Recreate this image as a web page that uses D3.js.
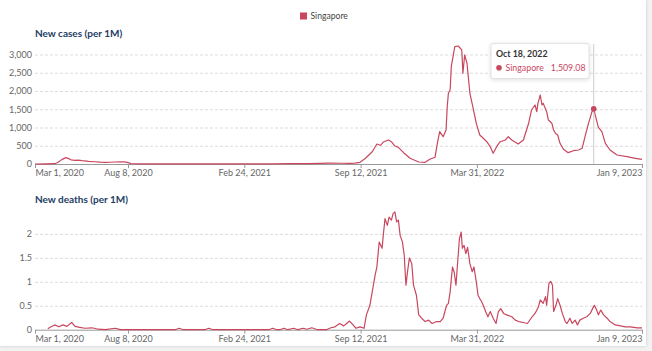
<!DOCTYPE html>
<html>
<head>
<meta charset="utf-8">
<script src="https://cdn.jsdelivr.net/npm/d3@7"></script>
<style>
  body { margin: 0; background: #f2f2f2; font-family: Lato, sans-serif; }
  #card { position: absolute; left: 0; top: 0; width: 646px; height: 346px; background: #fff; box-shadow: 0 0 3px rgba(0,0,0,0.18); }
  svg { position: absolute; left: 0; top: 0; }
  .grid line { stroke: #ddd; stroke-dasharray: 3,2; }
  .axis text { fill: #666; font-family: Lato, sans-serif; font-size: 9px; }
  .axis path, .axis line { stroke: #999; }
</style>
</head>
<body>
<div id="card"></div>
<svg id="chart" width="652" height="351"></svg>
<script>
const entity = 'Singapore'
const lineColor = '#c8475f'
const tickDates = ['2020-03-01', '2020-08-08', '2021-02-24', '2021-09-12', '2022-03-31', '2023-01-09']
const caseTicks = [0, 500, 1000, 1500, 2000, 2500, 3000]
const deathTicks = [0, 0.5, 1, 1.5, 2]
const hoverDate = '2022-10-18'
const hoverValue = 1509.08

// [date, new cases per 1M]
const casesSeries = [
  ['2020-03-01', 0], ['2020-03-20', 2], ['2020-04-04', 8], ['2020-04-09', 40], ['2020-04-16', 120],
  ['2020-04-23', 175], ['2020-04-27', 155], ['2020-05-02', 115], ['2020-05-09', 100], ['2020-05-14', 108],
  ['2020-05-21', 92], ['2020-06-01', 72], ['2020-06-12', 62], ['2020-06-21', 50], ['2020-06-30', 45],
  ['2020-07-08', 48], ['2020-07-17', 55], ['2020-07-26', 62], ['2020-08-02', 58], ['2020-08-08', 38],
  ['2020-08-13', 12], ['2020-08-28', 5], ['2020-10-01', 2], ['2021-01-01', 3], ['2021-04-15', 5],
  ['2021-05-15', 10], ['2021-06-15', 8], ['2021-07-20', 25], ['2021-08-10', 20], ['2021-08-25', 15],
  ['2021-09-02', 25], ['2021-09-11', 45], ['2021-09-20', 150], ['2021-10-02', 337], ['2021-10-10', 548],
  ['2021-10-16', 512], ['2021-10-22', 611], ['2021-10-30', 658], ['2021-11-04', 611], ['2021-11-10', 493],
  ['2021-11-16', 457], ['2021-11-25', 310], ['2021-12-06', 156], ['2021-12-21', 55], ['2022-01-01', 47],
  ['2022-01-09', 129], ['2022-01-18', 184], ['2022-01-22', 567], ['2022-01-26', 886], ['2022-02-01', 748],
  ['2022-02-06', 932], ['2022-02-08', 1570], ['2022-02-10', 1937], ['2022-02-13', 2028], ['2022-02-15', 2666],
  ['2022-02-21', 3214], ['2022-02-27', 3233], ['2022-03-05', 3124], ['2022-03-07', 2485], ['2022-03-10', 2987],
  ['2022-03-14', 2759], ['2022-03-19', 1937], ['2022-03-24', 1570], ['2022-03-30', 1115], ['2022-04-05', 795],
  ['2022-04-11', 704], ['2022-04-17', 611], ['2022-04-23', 474], ['2022-04-28', 293], ['2022-05-04', 474],
  ['2022-05-10', 611], ['2022-05-19', 658], ['2022-05-24', 748], ['2022-05-30', 658], ['2022-06-10', 548],
  ['2022-06-19', 658], ['2022-06-28', 1115], ['2022-07-03', 1480], ['2022-07-09', 1617], ['2022-07-12', 1433],
  ['2022-07-14', 1663], ['2022-07-18', 1890], ['2022-07-21', 1617], ['2022-07-23', 1663], ['2022-07-29', 1433],
  ['2022-08-01', 1205], ['2022-08-07', 1115], ['2022-08-10', 932], ['2022-08-13', 841], ['2022-08-17', 795],
  ['2022-08-21', 567], ['2022-08-27', 403], ['2022-09-04', 310], ['2022-09-13', 364], ['2022-09-22', 384],
  ['2022-09-28', 430], ['2022-10-03', 748], ['2022-10-09', 1115], ['2022-10-15', 1433], ['2022-10-18', 1509.08],
  ['2022-10-22', 1252], ['2022-10-26', 1005], ['2022-11-01', 886], ['2022-11-07', 567], ['2022-11-15', 384],
  ['2022-11-27', 247], ['2022-12-14', 200], ['2022-12-29', 156], ['2023-01-09', 129]
]

// [date, new deaths per 1M]
const deathsSeries = [
  ['2020-03-23', 0.02], ['2020-03-27', 0.05], ['2020-04-04', 0.1], ['2020-04-11', 0.06], ['2020-04-18', 0.1],
  ['2020-04-25', 0.07], ['2020-05-03', 0.15], ['2020-05-09', 0.07], ['2020-05-17', 0.05], ['2020-05-26', 0.03],
  ['2020-06-07', 0.04], ['2020-06-18', 0.01], ['2020-06-30', 0], ['2020-07-17', 0.03], ['2020-07-26', 0],
  ['2020-10-28', 0], ['2020-11-04', 0.03], ['2020-11-11', 0], ['2020-12-18', 0], ['2020-12-25', 0.03],
  ['2021-01-01', 0], ['2021-04-07', 0], ['2021-04-14', 0.03], ['2021-04-21', 0], ['2021-04-26', 0],
  ['2021-05-03', 0.03], ['2021-05-10', 0], ['2021-05-20', 0.03], ['2021-05-27', 0], ['2021-06-05', 0.03],
  ['2021-06-12', 0.01], ['2021-06-20', 0.04], ['2021-06-30', 0], ['2021-07-15', 0], ['2021-07-23', 0.04],
  ['2021-07-30', 0.06], ['2021-08-07', 0.13], ['2021-08-14', 0.08], ['2021-08-19', 0.13], ['2021-08-24', 0.18],
  ['2021-08-30', 0.1], ['2021-09-04', 0.03], ['2021-09-11', 0.06], ['2021-09-18', 0.03], ['2021-09-22', 0.31],
  ['2021-09-28', 0.51], ['2021-10-04', 0.93], ['2021-10-07', 1.14], ['2021-10-10', 1.31], ['2021-10-14', 1.83],
  ['2021-10-19', 1.7], ['2021-10-21', 1.97], ['2021-10-24', 2.32], ['2021-10-28', 2.18], ['2021-10-31', 2.35],
  ['2021-11-04', 2.29], ['2021-11-07', 2.43], ['2021-11-10', 2.46], ['2021-11-13', 2.25], ['2021-11-16', 2.29],
  ['2021-11-19', 1.97], ['2021-11-23', 1.83], ['2021-11-26', 1.56], ['2021-11-29', 0.93], ['2021-12-02', 1.24],
  ['2021-12-05', 1.5], ['2021-12-09', 1.38], ['2021-12-12', 0.93], ['2021-12-17', 0.72], ['2021-12-21', 0.31],
  ['2021-12-26', 0.24], ['2022-01-01', 0.17], ['2022-01-07', 0.2], ['2022-01-13', 0.13], ['2022-01-21', 0.17],
  ['2022-01-27', 0.17], ['2022-02-01', 0.24], ['2022-02-04', 0.38], ['2022-02-07', 0.51], ['2022-02-10', 0.55],
  ['2022-02-13', 0.79], ['2022-02-17', 1.31], ['2022-02-20', 1.2], ['2022-02-23', 0.93], ['2022-02-26', 1.42],
  ['2022-03-01', 1.9], ['2022-03-04', 2.04], ['2022-03-06', 1.7], ['2022-03-09', 1.76], ['2022-03-12', 1.59],
  ['2022-03-15', 1.72], ['2022-03-19', 1.38], ['2022-03-23', 1.21], ['2022-03-26', 1.31], ['2022-03-30', 1.0],
  ['2022-04-02', 0.72], ['2022-04-05', 0.65], ['2022-04-08', 0.59], ['2022-04-11', 0.51], ['2022-04-15', 0.38],
  ['2022-04-19', 0.27], ['2022-04-23', 0.38], ['2022-04-28', 0.24], ['2022-05-03', 0.13], ['2022-05-07', 0.38],
  ['2022-05-11', 0.44], ['2022-05-16', 0.34], ['2022-05-21', 0.31], ['2022-05-30', 0.27], ['2022-06-05', 0.2],
  ['2022-06-11', 0.17], ['2022-06-19', 0.15], ['2022-06-26', 0.13], ['2022-07-04', 0.27], ['2022-07-09', 0.34],
  ['2022-07-15', 0.48], ['2022-07-18', 0.62], ['2022-07-23', 0.55], ['2022-07-27', 0.69], ['2022-07-29', 0.51],
  ['2022-08-02', 0.97], ['2022-08-05', 1.01], ['2022-08-08', 0.93], ['2022-08-10', 0.38], ['2022-08-14', 0.51],
  ['2022-08-17', 0.65], ['2022-08-21', 0.51], ['2022-08-25', 0.34], ['2022-08-30', 0.17], ['2022-09-02', 0.13],
  ['2022-09-07', 0.24], ['2022-09-11', 0.13], ['2022-09-16', 0.2], ['2022-09-20', 0.1], ['2022-09-24', 0.2],
  ['2022-09-30', 0.24], ['2022-10-06', 0.27], ['2022-10-12', 0.34], ['2022-10-16', 0.44], ['2022-10-19', 0.51],
  ['2022-10-23', 0.41], ['2022-10-26', 0.31], ['2022-10-30', 0.41], ['2022-11-04', 0.31], ['2022-11-10', 0.24],
  ['2022-11-15', 0.17], ['2022-11-24', 0.1], ['2022-12-03', 0.08], ['2022-12-11', 0.06], ['2022-12-20', 0.06],
  ['2023-01-01', 0.04], ['2023-01-09', 0.04]
]

const parse = d3.utcParse('%Y-%m-%d')
const svg = d3.select('#chart')

const xScale = d3.scaleUtc()
  .domain([parse(tickDates[0]), parse(tickDates[tickDates.length - 1])])
  .range([35, 642])

function panel (series, ticks, yScale, title, titleY, fmt) {
  const g = svg.append('g')
  const width = xScale.range()[1] - xScale.range()[0]

  g.append('text')
    .attr('x', 35).attr('y', titleY)
    .attr('fill', '#1d3d63')
    .style('font-size', '10px').style('font-weight', 700)
    .text(title)

  // dashed grid, zero line is the x axis
  g.append('g').attr('class', 'grid')
    .attr('transform', `translate(${xScale.range()[0]},0)`)
    .call(d3.axisLeft(yScale).tickValues(ticks.slice(1)).tickSize(-width).tickFormat(''))
    .call(a => a.select('.domain').remove())

  g.append('g').attr('class', 'axis')
    .attr('transform', `translate(${xScale.range()[0]},0)`)
    .call(d3.axisLeft(yScale).tickValues(ticks).tickSize(0).tickPadding(3).tickFormat(fmt))
    .call(a => a.select('.domain').remove())

  const xAxis = g.append('g').attr('class', 'axis')
    .attr('transform', `translate(0,${yScale(0)})`)
    .call(d3.axisBottom(xScale).tickValues(tickDates.map(parse)).tickSize(4).tickSizeOuter(0).tickPadding(2)
      .tickFormat(d3.utcFormat('%b %-d, %Y')))
  xAxis.selectAll('.tick text')
    .attr('text-anchor', (d, i, n) => i === 0 ? 'start' : i === n.length - 1 ? 'end' : 'middle')

  const line = d3.line().x(d => xScale(parse(d[0]))).y(d => yScale(d[1]))
  g.append('path').datum(series)
    .attr('d', line)
    .attr('fill', 'none')
    .attr('stroke', lineColor)
    .attr('stroke-width', 1.2)
    .attr('stroke-linejoin', 'round')
  return g
}

const yCases = d3.scaleLinear().domain([0, 3000]).range([164, 54.5])
const yDeaths = d3.scaleLinear().domain([0, 2.5]).range([329.7, 210])

const casesPanel = panel(casesSeries, caseTicks, yCases, 'New cases (per 1M)', 36.5, d3.format(','))
panel(deathsSeries, deathTicks, yDeaths, 'New deaths (per 1M)', 202.5, d => String(d))

// legend
const legend = svg.append('g')
legend.append('rect').attr('x', 300).attr('y', 12.5).attr('width', 7).attr('height', 7).attr('fill', lineColor)
legend.append('text').attr('x', 310.5).attr('y', 19)
  .attr('fill', '#444').style('font-size', '8.6px').text(entity)

// hover marker on the cases chart
const hx = xScale(parse(hoverDate))
casesPanel.append('line')
  .attr('x1', hx).attr('x2', hx).attr('y1', 44).attr('y2', yCases(0))
  .attr('stroke', '#ccc')
casesPanel.append('circle')
  .attr('cx', hx).attr('cy', yCases(hoverValue)).attr('r', 2.8).attr('fill', lineColor)

const tip = casesPanel.append('g').attr('transform', 'translate(491,43.5)')
tip.append('rect').attr('width', 98).attr('height', 35).attr('rx', 2)
  .attr('fill', '#fff').attr('stroke', '#e2e2e2')
  .style('filter', 'drop-shadow(0 1px 2px rgba(0,0,0,0.12))')
tip.append('text').attr('x', 5).attr('y', 13)
  .attr('fill', '#333').style('font-size', '8.8px').style('font-weight', 700)
  .text(d3.utcFormat('%b %-d, %Y')(parse(hoverDate)))
tip.append('circle').attr('cx', 8).attr('cy', 24.3).attr('r', 2.8).attr('fill', lineColor)
tip.append('text').attr('x', 14.5).attr('y', 27.5)
  .attr('fill', lineColor).style('font-size', '8.8px').text(entity)
tip.append('text').attr('x', 94.5).attr('y', 27.5).attr('text-anchor', 'end')
  .attr('fill', lineColor).style('font-size', '8.8px').text(d3.format(',.2f')(hoverValue))
</script>
</body>
</html>
